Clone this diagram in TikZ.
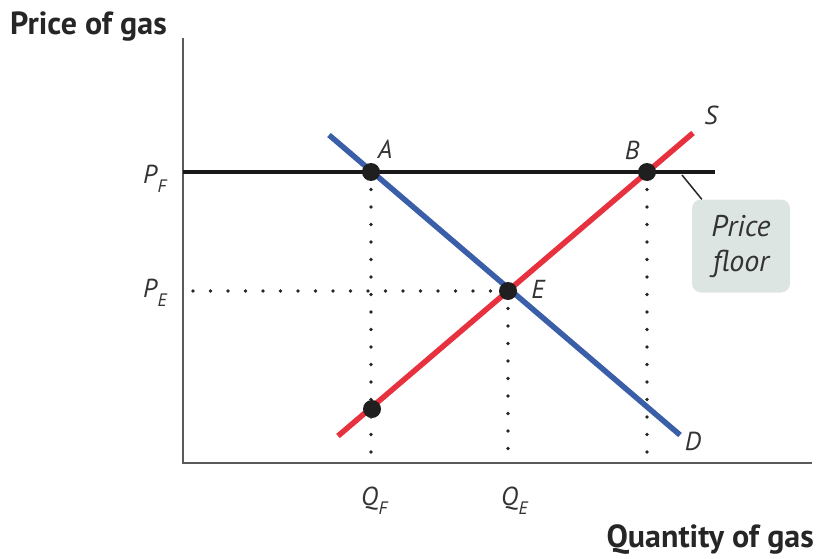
\documentclass[tikz,border=0pt]{standalone}
\usepackage{fontspec}
\setmainfont{PT Sans}
\definecolor{dblue}{RGB}{58,95,168}
\definecolor{sred}{RGB}{232,49,63}
\definecolor{boxfill}{RGB}{221,229,227}
\definecolor{axisgray}{RGB}{90,90,90}
\newcommand\lsub[1]{\kern0.5pt\raisebox{-9pt}{\fontsize{18}{20}\selectfont #1}}
\begin{document}
\begin{tikzpicture}[x=1pt,y=-1pt,
  axisline/.style={draw=axisgray,line width=2pt},
  floorline/.style={draw=black!90,line width=4pt},
  demand/.style={draw=dblue,line width=5.5pt},
  supply/.style={draw=sred,line width=5.5pt},
  dotline/.style={draw=black!85,line width=3.8pt,line cap=round,dash pattern=on 0pt off 17.5pt},
  eqdot/.style={circle,fill=black!88,inner sep=0pt,minimum size=18pt},
  lab/.style={font=\fontsize{26}{30}\selectfont\itshape,text=black!80,inner sep=0pt},
  title/.style={font=\fontsize{32}{36}\selectfont\bfseries,text=black!85,inner sep=0pt},
  floorbox/.style={fill=boxfill,rounded corners=9pt,minimum width=98pt,minimum height=93pt,align=center,font=\fontsize{30}{35}\selectfont\itshape,text=black!80,inner sep=0pt}]
\useasboundingbox (0,0) rectangle (816,559);
% axes
\coordinate (O) at (183,463);
\coordinate (ytop) at (183,38);
\coordinate (xend) at (812,463);
\draw[axisline] (ytop) -- (O) -- (xend);
% price floor line
\coordinate (pfl) at (183,172);
\coordinate (pfr) at (715,172);
\draw[floorline] (pfl) -- (pfr);
% curves
\coordinate (Dtop) at (329,135);
\coordinate (Dbot) at (680,435);
\coordinate (Sbot) at (338,436);
\coordinate (Stop) at (693,133);
\draw[demand] (Dtop) -- (Dbot);
\draw[supply] (Sbot) -- (Stop);
% points
\node[eqdot] (A) at (371,172) {};
\node[eqdot] (B) at (647,172) {};
\node[eqdot] (E) at (508,291) {};
\node[eqdot] (C) at (372,409) {};
% dotted guides
\draw[dotline] ([yshift=-17.5pt]A.center) -- (A.center |- O);
\draw[dotline] ([yshift=-17.5pt]E.center) -- (E.center |- O);
\draw[dotline] ([yshift=-17.5pt]B.center) -- (B.center |- O);
\draw[dotline] ([xshift=-17.5pt]E.center) -- ([xshift=10pt]O |- E.center);
% labels
\node[lab] (lA) at (385,149) {A};
\node[lab] (lB) at (632,150) {B};
\node[lab] (lE) at (538,289) {E};
\node[lab] (lS) at (711,115) {S};
\node[lab] (lD) at (693,441) {D};
\node[lab,anchor=base west] (lPF) at (143,183) {P\lsub{F}};
\node[lab,anchor=base west] (lPE) at (143,297) {P\lsub{E}};
\node[lab,anchor=base west] (lQF) at (361,505) {Q\lsub{F}};
\node[lab,anchor=base west] (lQE) at (501,505) {Q\lsub{E}};
% titles
\node[title,anchor=west] (ty) at (10,27) {Price of gas};
\node[title,anchor=east] (tx) at (814,540) {Quantity of gas};
% price floor box
\node[floorbox] (pf) at (741,246) {Price\\floor};
\coordinate (pfanchor) at (682,175);
\draw[black!85,line width=1.5pt] (pfanchor) -- ([xshift=10pt]pf.north west);
\end{tikzpicture}
\end{document}
